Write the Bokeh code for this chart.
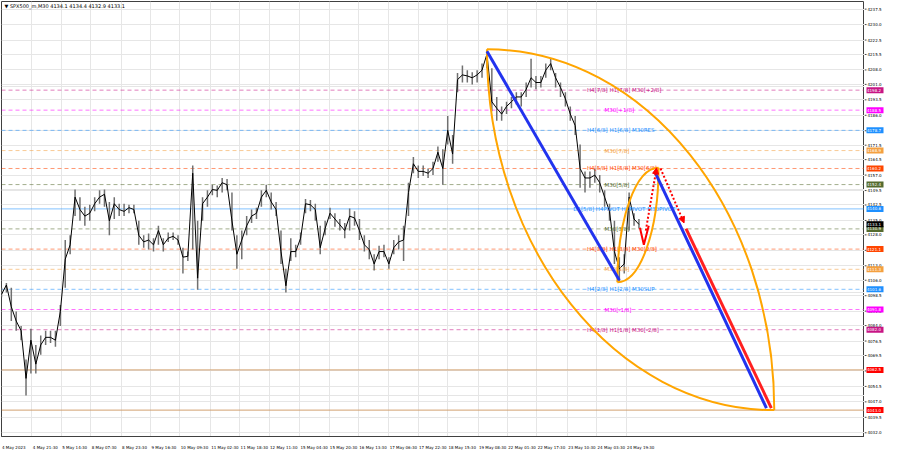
from bokeh.plotting import figure
from bokeh.layouts import row
from bokeh.models import Range1d, FixedTicker, Label, ColumnDataSource, Arrow, NormalHead, Grid
from bokeh.embed import file_html
from bokeh.resources import INLINE
from bokeh.core.properties import value

# ---------------- data ----------------
bar_idx = list(range(0, 655, 5))
close = [4099.1, 4103.7, 4093.1, 4086.2, 4081.5, 4058.4, 4076.9, 4065.3, 4074.6, 4078.3,
         4078.3, 4076.9, 4090.8, 4116.2, 4123.2, 4146.3, 4140.3, 4137.1, 4138.5, 4143.1,
         4146.3, 4147.7, 4134.8, 4143.1, 4140.3, 4139.4, 4141.2, 4140.3, 4127.8, 4124.6,
         4125.5, 4123.2, 4130.1, 4123.2, 4126.4, 4127.3, 4125.5, 4117.2, 4117.6, 4157.9,
         4107.0, 4143.1, 4146.3, 4150.0, 4149.6, 4153.3, 4152.3, 4134.8, 4118.6, 4125.5,
         4132.4, 4137.1, 4138.5, 4146.3, 4149.6, 4144.0, 4140.3, 4119.9, 4103.3, 4119.9,
         4119.9, 4126.4, 4143.1, 4142.6, 4140.3, 4121.8, 4131.1, 4138.5, 4135.7, 4132.9,
         4130.1, 4137.1, 4136.2, 4130.1, 4123.2, 4120.9, 4113.9, 4119.9, 4119.9, 4113.9,
         4121.8, 4124.6, 4125.5, 4148.6, 4162.5, 4158.8, 4158.8, 4157.9, 4160.2, 4168.1,
         4160.2, 4178.7, 4167.2, 4203.3, 4205.6, 4205.1, 4204.2, 4205.6, 4207.9, 4215.7,
         4192.6, 4189.4, 4186.6, 4190.3, 4192.6, 4194.9, 4194.9, 4198.6, 4204.2, 4201.9,
         4201.9, 4207.9, 4211.1, 4204.2, 4199.5, 4194.0, 4186.6, 4181.0, 4160.2, 4155.6,
         4155.6, 4157.0, 4153.3, 4146.3, 4139.4, 4119.9, 4111.6, 4113.9, 4146.3, 4135.7,
         4133.1]
high = [4102.4, 4104.7, 4102.4, 4090.8, 4083.8, 4067.6, 4082.5, 4074.6, 4079.2, 4081.5,
        4081.5, 4081.5, 4094.0, 4125.5, 4127.8, 4150.0, 4146.3, 4141.7, 4142.6, 4146.3,
        4149.6, 4150.0, 4144.0, 4146.3, 4143.1, 4143.1, 4142.6, 4142.6, 4134.8, 4127.8,
        4128.7, 4126.4, 4132.4, 4126.4, 4129.2, 4129.2, 4127.8, 4121.8, 4119.9, 4161.6,
        4134.8, 4146.3, 4149.6, 4152.3, 4151.9, 4155.6, 4155.1, 4148.6, 4127.8, 4130.1,
        4137.1, 4140.3, 4141.2, 4149.6, 4152.3, 4148.6, 4144.0, 4130.1, 4111.6, 4126.4,
        4123.2, 4129.2, 4145.4, 4144.9, 4143.1, 4132.4, 4134.8, 4141.2, 4138.5, 4135.7,
        4133.8, 4140.8, 4139.4, 4135.7, 4127.8, 4125.5, 4118.6, 4122.7, 4123.2, 4117.2,
        4125.5, 4127.8, 4132.4, 4153.3, 4165.8, 4161.6, 4161.6, 4160.2, 4163.5, 4170.9,
        4169.5, 4185.7, 4176.4, 4206.5, 4210.2, 4207.9, 4206.9, 4207.9, 4211.1, 4217.1,
        4208.8, 4194.9, 4190.3, 4192.6, 4194.9, 4197.2, 4197.2, 4201.9, 4213.4, 4205.1,
        4205.1, 4211.1, 4213.4, 4206.5, 4201.9, 4197.2, 4190.3, 4185.7, 4171.8, 4158.8,
        4158.8, 4160.2, 4157.0, 4149.6, 4143.1, 4134.8, 4117.2, 4118.6, 4148.6, 4138.5,
        4135.7]
low = [4097.7, 4100.0, 4086.2, 4081.5, 4076.9, 4050.1, 4060.7, 4060.7, 4069.9, 4074.6,
       4075.5, 4073.7, 4083.8, 4102.4, 4118.6, 4137.1, 4134.8, 4132.4, 4134.8, 4139.4,
       4143.1, 4141.7, 4127.8, 4135.7, 4137.1, 4137.1, 4138.5, 4138.5, 4123.2, 4121.8,
       4120.9, 4119.9, 4123.2, 4119.9, 4124.6, 4125.5, 4123.2, 4109.3, 4115.3, 4120.9,
       4101.4, 4134.8, 4141.7, 4147.2, 4146.3, 4148.6, 4149.6, 4130.1, 4111.6, 4116.2,
       4127.8, 4133.8, 4135.7, 4141.7, 4146.3, 4140.3, 4137.1, 4113.9, 4100.0, 4115.3,
       4117.2, 4123.2, 4138.5, 4139.4, 4134.8, 4118.6, 4127.8, 4135.7, 4132.0, 4130.1,
       4126.4, 4130.1, 4132.4, 4125.5, 4119.9, 4116.2, 4110.7, 4116.2, 4117.2, 4111.6,
       4118.6, 4120.9, 4115.3, 4137.1, 4157.9, 4155.6, 4156.5, 4155.6, 4157.0, 4163.5,
       4152.3, 4171.8, 4162.5, 4197.2, 4201.9, 4201.9, 4200.9, 4201.9, 4204.2, 4208.8,
       4188.0, 4183.4, 4183.4, 4186.6, 4189.4, 4191.2, 4190.3, 4194.9, 4199.5, 4198.6,
       4199.5, 4204.2, 4207.9, 4199.5, 4194.9, 4190.3, 4183.4, 4176.4, 4150.9, 4148.6,
       4150.9, 4153.3, 4148.6, 4141.7, 4134.8, 4113.9, 4104.7, 4109.3, 4130.1, 4132.4,
       4131.1]

x_tick_bars = [0, 31, 61, 91, 122, 152, 182, 213, 243, 273, 304, 334, 364, 395, 425,
               455, 486, 516, 546, 577, 607, 637]
x_tick_labels = ["4 May 2023", "4 May 21:30", "5 May 14:30", "8 May 07:30", "8 May 23:30",
                 "9 May 16:30", "10 May 09:30", "11 May 02:30", "11 May 18:30", "12 May 11:30",
                 "15 May 04:30", "15 May 20:30", "16 May 13:30", "17 May 06:30", "17 May 22:30",
                 "18 May 15:30", "19 May 08:30", "22 May 01:30", "22 May 17:30", "23 May 10:30",
                 "24 May 03:30", "24 May 19:30"]
y_ticks = [4237.5, 4230.0, 4222.5, 4215.5, 4208.0, 4201.0, 4193.5, 4186.0, 4178.5, 4171.5,
           4164.5, 4157.0, 4149.5, 4142.5, 4135.0, 4128.0, 4120.5, 4113.0, 4106.0, 4098.5,
           4091.0, 4084.0, 4076.5, 4069.5, 4062.0, 4054.5, 4047.0, 4039.5, 4032.0]

level_prices = [4198.2, 4188.5, 4178.7, 4168.9, 4160.2, 4152.4, 4140.6, 4130.9, 4121.1,
                4111.3, 4101.6, 4091.8, 4082.0]
level_names = ["H4[7/8] H1[7/8] M30[+2/8]", "M30[+1/8]", "H4[6/8] H1[6/8] M30RES", "M30[7/8]",
               "H4[5/8] H1[5/8] M30[6/8]", "M30[5/8]", "D1[5/8] H4PIVOT H1PIVOT M30PIVOT",
               "M30[3/8]", "H4[3/8] H1[3/8] M30[2/8]", "M30[1/8]", "H4[2/8] H1[2/8] M30SUP",
               "M30[-1/8]", "H4[1/8] H1[1/8] M30[-2/8]"]
level_colors = ["#c71585", "#ff00ff", "#1e90ff", "#f4a040", "#ff4500", "#556b2f", "#1e90ff",
                "#556b2f", "#ff4500", "#f4a040", "#1e90ff", "#ff00ff", "#c71585"]
level_label_bar = [597, 615, 597, 615, 597, 615, 583, 615, 597, 615, 597, 615, 597]

target_prices = [4062.5, 4043.0]
current_price = 4133.1

# drawing anchors (bar index, price)
trend1 = [(495, 4217.1), (630, 4106.0)]
trend2 = [(666, 4158.8), (780, 4044.0)]
trend_red = [(698, 4131.0), (785, 4044.0)]
big_lens = [(495, 4218.0), (788, 4043.0)]
small_lens = [(628, 4105.0), (670, 4160.5)]
dot_up = [(657, 4130.1), (668, 4160.5)]
dot_down = [(672, 4160.2), (696, 4133.8)]
vee = [(651, 4131.5), (655, 4123.2), (660, 4132.4)]

title_text = "\u25bc SPX500_m,M30  4134.1 4134.4 4132.9 4133.1"

FONT = "DejaVu Sans"
X_END = 880
Y_LO, Y_HI = 4030.2, 4241.2
TOTAL_W, TOTAL_H, SCALE_W = 884, 452, 20
BOTTOM = 12

# ---------------- main chart ----------------
p = figure(width=TOTAL_W - SCALE_W, height=TOTAL_H, x_range=Range1d(0, X_END),
           y_range=Range1d(Y_LO, Y_HI), output_backend="svg", toolbar_location=None,
           y_axis_location=None, min_border_left=1, min_border_top=1, min_border_right=0,
           min_border_bottom=BOTTOM, background_fill_color="white", border_fill_color="white")
p.outline_line_color = "#404040"

# x labels sit to the right of their tick (terminal style)
x_label_centres = [b + len(lab) * 1.15 + 1 for b, lab in zip(x_tick_bars, x_tick_labels)]
p.xaxis.ticker = FixedTicker(ticks=x_label_centres)
p.xaxis.major_label_overrides = {c: lab for c, lab in zip(x_label_centres, x_tick_labels)}
p.xaxis.major_tick_line_color = None
p.xaxis.axis_line_color = "#404040"
p.xaxis.minor_tick_line_color = None
p.xaxis.major_label_text_font = FONT
p.xaxis.major_label_text_font_size = "4px"
p.xaxis.major_label_text_color = "black"
p.xaxis.major_label_standoff = 2

p.xgrid.ticker = FixedTicker(ticks=x_tick_bars)
p.xgrid.grid_line_color = "#e6e6e6"
p.add_layout(Grid(dimension=1, ticker=FixedTicker(ticks=y_ticks), grid_line_color="#e6e6e6"))

# level lines
for lp, lc in zip(level_prices, level_colors):
    dash = "solid" if lp == 4140.6 else "4 3"
    p.line([0, X_END], [lp, lp], line_color=lc, line_width=1, line_dash=dash, line_alpha=0.55)
for tp in target_prices:
    p.line([0, X_END], [tp, tp], line_color="#d2a070", line_width=1)

# price bars
src = ColumnDataSource(dict(x=bar_idx, c=close, h=high, l=low))
p.segment(x0="x", y0="l", x1="x", y1="h", source=src, line_color="#707070", line_width=1.5)
p.line(x="x", y="c", source=src, line_color="black", line_width=1)

# level texts
p.text(x=level_label_bar, y=level_prices, text=level_names, text_color=level_colors,
       text_font=value(FONT), text_font_size="5.5px", text_baseline="middle", text_align="left")

# orange arcs (quarter ellipses as cubic beziers)
K = 0.5523
def quarter(p0, p1, horizontal_first):
    (x0, y0), (x1, y1) = p0, p1
    if horizontal_first:
        c0 = (x0 + K * (x1 - x0), y0)
        c1 = (x1, y1 - K * (y1 - y0))
    else:
        c0 = (x0, y0 + K * (y1 - y0))
        c1 = (x1 - K * (x1 - x0), y1)
    return dict(x0=[x0], y0=[y0], x1=[x1], y1=[y1], cx0=[c0[0]], cy0=[c0[1]], cx1=[c1[0]], cy1=[c1[1]])

for anchors in (big_lens, small_lens):
    for hf in (True, False):
        p.bezier(**quarter(anchors[0], anchors[1], hf), line_color="#ffa500", line_width=2)

# trend lines
for tl, col in ((trend1, "#2233ee"), (trend2, "#2233ee"), (trend_red, "#ff2020")):
    p.line([tl[0][0], tl[1][0]], [tl[0][1], tl[1][1]], line_color=col, line_width=3)

# red dotted arrows
for seg in (dot_up, dot_down):
    p.add_layout(Arrow(end=NormalHead(size=6, fill_color="red", line_color="red"),
                       x_start=seg[0][0], y_start=seg[0][1], x_end=seg[1][0], y_end=seg[1][1],
                       line_color="red", line_width=2, line_dash="2 2"))
p.line([v[0] for v in vee], [v[1] for v in vee], line_color="red", line_width=2)

p.add_layout(Label(x=3, y=4239.0, text=title_text, text_font=FONT, text_font_size="5px",
                   text_baseline="middle", text_align="left", text_color="black"))

# ---------------- price scale strip (shares the price range) ----------------
s = figure(width=SCALE_W, height=TOTAL_H, x_range=Range1d(0, SCALE_W), y_range=p.y_range,
           output_backend="svg", toolbar_location=None, x_axis_location=None,
           y_axis_location=None, min_border_left=0, min_border_right=0, min_border_top=1,
           min_border_bottom=BOTTOM, background_fill_color="white", border_fill_color="white")
s.outline_line_color = None
s.grid.visible = False
s.segment(x0=0, x1=2, y0=y_ticks, y1=y_ticks, line_color="#404040", line_width=1)
s.text(x=3, y=y_ticks, text=[f"{t:.1f}" for t in y_ticks], text_font=value(FONT),
       text_font_size="4px", text_baseline="middle", text_align="left", text_color="black")

box_prices = level_prices + [current_price] + target_prices
box_colors = level_colors + ["black", "#ff0000", "#ff0000"]
s.rect(x=10.5, y=box_prices, width=17, height=6, width_units="screen", height_units="screen",
       fill_color=box_colors, line_color=None)
s.text(x=2.5, y=box_prices, text=[f"{b:.1f}" for b in box_prices], text_font=value(FONT),
       text_font_size="4px", text_baseline="middle", text_align="left", text_color="white")

layout = row(p, s, spacing=0)
open("out.html", "w").write(file_html(layout, INLINE))
